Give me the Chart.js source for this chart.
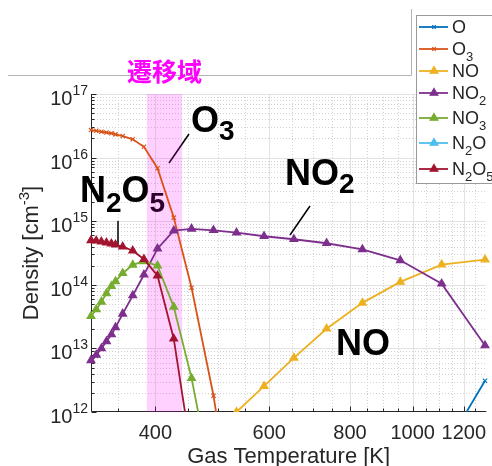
<!DOCTYPE html>
<html>
<head>
<meta charset="utf-8">
<script src="https://cdn.jsdelivr.net/npm/chart.js@4.4.0/dist/chart.umd.min.js"></script>
<style>
html, body { margin: 0; padding: 0; background: #fff; overflow: hidden; }
</style>
</head>
<body>
<canvas id="chart" width="492" height="466"></canvas>
<script>
//------------------------------------
// Data
//------------------------------------

const temps = [318, 324, 330, 336, 342, 347, 356, 369, 384, 403, 427, 455, 492, 534, 589, 655, 736, 836, 957, 1109, 1294];

const densO = [null, null, null, null, null, null, null, null, null, null, null, null, null, null, null, null, null, null, null, 2.2e11, 3.1e12];

const densO3 = [2.71e16, 2.64e16, 2.55e16, 2.48e16, 2.41e16, 2.32e16, 2.18e16, 1.94e16, 1.48e16, 6.8e15, 1.14e15, 9.0e13, 1.8e12, 8.7e9, null, null, null, null, null, null, null];

const densNO = [null, null, null, null, null, null, null, null, null, null, null, null, null, 1.0e12, 2.55e12, 7.1e12, 2.04e13, 5.2e13, 1.11e14, 2.08e14, 2.49e14];

const densNO2 = [6.5e12, 7.9e12, 1.0e13, 1.29e13, 1.66e13, 2.14e13, 3.5e13, 6.8e13, 1.44e14, 3.7e14, 7.1e14, 7.6e14, 7.2e14, 6.6e14, 5.8e14, 5.2e14, 4.5e14, 3.6e14, 2.43e14, 1.04e14, 1.11e13];

const densNO3 = [3.2e13, 4.1e13, 5.4e13, 7.3e13, 9.5e13, 1.13e14, 1.52e14, 2.06e14, 2.34e14, 2.0e14, 4.5e13, 3.4e12, 5.8e10, null, null, null, null, null, null, null, null];

const densN2O = [];

const densN2O5 = [5.0e14, 4.93e14, 4.75e14, 4.58e14, 4.42e14, 4.26e14, 3.97e14, 3.43e14, 2.52e14, 1.39e14, 1.42e13, 2.1e11, null, null, null, null, null, null, null, null, null];

const seriesNames = ["O", "O3", "NO", "NO2", "NO3", "N2O", "N2O5"];
const seriesValues = [densO, densO3, densNO, densNO2, densNO3, densN2O, densN2O5];
const seriesColors = ["#0072BD", "#D95319", "#EDB120", "#7E2F8E", "#77AC30", "#4DBEEE", "#A2142F"];
const seriesMarkers = ["crossRot", "crossRot", "triangle", "triangle", "triangle", "triangle", "triangle"];

const xTicks = [400, 600, 800, 1000, 1200];
const xMinorTicks = [350, 450, 500, 550, 650, 700, 750, 850, 900, 950, 1050, 1100, 1150, 1250];
const yTickExps = [12, 13, 14, 15, 16, 17];

const bandRange = [388, 440];
const bandLabel = "遷移域";

const FONT = '"Liberation Sans", Arial, Helvetica, sans-serif';
const TXT = "#262626";

//------------------------------------
// Helpers
//------------------------------------

function seg(ctx, x1, y1, x2, y2) {
    ctx.beginPath();
    ctx.moveTo(x1, y1);
    ctx.lineTo(x2, y2);
    ctx.stroke();
}

// chemical formula: digits are subscripts
function drawFormula(ctx, text, x, y, size, subSize, drop, weight) {
    for (const ch of text) {
        const isSub = /[0-9]/.test(ch);
        ctx.font = `${weight} ${isSub ? subSize : size}px ${FONT}`;
        ctx.fillText(ch, x, isSub ? y + drop : y);
        x += ctx.measureText(ch).width;
    }
}

//------------------------------------
// Plugin: grid, axes, texts, band, legend
//------------------------------------

const decor = {
    id: "decor",

    beforeDraw(chart) {
        const ctx = chart.ctx;
        ctx.save();
        ctx.fillStyle = "#ffffff";
        ctx.fillRect(0, 0, chart.width, chart.height);
        ctx.restore();
    },

    beforeDatasetsDraw(chart) {
        const { ctx, chartArea: a, scales } = chart;
        const xs = scales.x, ys = scales.y;

        ctx.save();
        ctx.beginPath();
        ctx.rect(a.left, a.top, a.right - a.left, a.bottom - a.top);
        ctx.clip();
        ctx.lineWidth = 1;

        // minor grid (dotted)
        ctx.setLineDash([1, 2]);
        ctx.strokeStyle = "#d2d2d2";
        xMinorTicks.forEach(v => {
            const px = Math.round(xs.getPixelForValue(v)) + 0.5;
            seg(ctx, px, a.top, px, a.bottom);
        });
        for (let e = 12; e < 17; e++) {
            for (let m = 2; m <= 9; m++) {
                const py = Math.round(ys.getPixelForValue(m * Math.pow(10, e))) + 0.5;
                seg(ctx, a.left, py, a.right, py);
            }
        }

        // major grid
        ctx.setLineDash([]);
        ctx.strokeStyle = "#e2e2e2";
        xTicks.forEach(v => {
            const px = Math.round(xs.getPixelForValue(v)) + 0.5;
            seg(ctx, px, a.top, px, a.bottom);
        });
        yTickExps.forEach(e => {
            const py = Math.round(ys.getPixelForValue(Math.pow(10, e))) + 0.5;
            seg(ctx, a.left, py, a.right, py);
        });
        ctx.restore();

        // axes
        ctx.save();
        ctx.strokeStyle = TXT;
        ctx.lineWidth = 1;
        const L = Math.round(a.left) + 0.5, B = Math.round(a.bottom) - 0.5;
        seg(ctx, L, a.top, L, B);
        seg(ctx, L, B, a.right, B);
        yTickExps.forEach(e => {
            const py = Math.round(ys.getPixelForValue(Math.pow(10, e))) + 0.5;
            seg(ctx, L, py, L + 5, py);
            if (e < 17) {
                for (let m = 2; m <= 9; m++) {
                    const pm = Math.round(ys.getPixelForValue(m * Math.pow(10, e))) + 0.5;
                    seg(ctx, L, pm, L + 3, pm);
                }
            }
        });
        xTicks.forEach(v => {
            const px = Math.round(xs.getPixelForValue(v)) + 0.5;
            seg(ctx, px, B, px, B - 5);
        });
        xMinorTicks.forEach(v => {
            const px = Math.round(xs.getPixelForValue(v)) + 0.5;
            seg(ctx, px, B, px, B - 3);
        });
        ctx.restore();

        // big species labels
        ctx.save();
        ctx.fillStyle = "#000000";
        ctx.textAlign = "left";
        ctx.textBaseline = "alphabetic";
        drawFormula(ctx, "N2O5", 80, 202, 36, 28, 10, "bold");
        drawFormula(ctx, "O3", 191, 132, 36, 28, 8, "bold");
        drawFormula(ctx, "NO2", 285, 185, 36, 28, 8, "bold");
        drawFormula(ctx, "NO", 336, 355, 36, 28, 8, "bold");

        // leader lines
        ctx.strokeStyle = "#000000";
        ctx.lineWidth = 1.5;
        seg(ctx, 189, 134, 169, 163);
        seg(ctx, 118, 221, 118, 246);
        seg(ctx, 310, 206, 290, 235);
        ctx.restore();

        // transition band
        ctx.save();
        const b0 = xs.getPixelForValue(bandRange[0]);
        const b1 = xs.getPixelForValue(bandRange[1]);
        ctx.fillStyle = "rgba(255, 0, 255, 0.18)";
        ctx.fillRect(b0, a.top, b1 - b0, a.bottom - a.top);
        ctx.restore();
    },

    afterDatasetsDraw(chart) {
        const { ctx, chartArea: a, scales } = chart;
        const xs = scales.x, ys = scales.y;

        ctx.save();
        ctx.fillStyle = TXT;

        // y tick labels 10^n
        ctx.textAlign = "left";
        ctx.textBaseline = "alphabetic";
        yTickExps.forEach(e => {
            const py = ys.getPixelForValue(Math.pow(10, e));
            const exp = String(e);
            ctx.font = `14px ${FONT}`;
            const wSup = ctx.measureText(exp).width;
            ctx.font = `20px ${FONT}`;
            const wBase = ctx.measureText("10").width;
            const x0 = a.left - 3 - wSup - wBase;
            ctx.fillText("10", x0, py + 11);
            ctx.font = `14px ${FONT}`;
            ctx.fillText(exp, x0 + wBase, py + 1);
        });

        // x tick labels
        ctx.textAlign = "center";
        ctx.font = `20px ${FONT}`;
        xTicks.forEach(v => {
            ctx.fillText(String(v), xs.getPixelForValue(v), 439);
        });

        // x title
        ctx.font = `22px ${FONT}`;
        ctx.fillText("Gas Temperature [K]", (a.left + a.right) / 2, 463);

        // y title with superscript
        ctx.save();
        ctx.translate(38, (a.top + a.bottom) / 2);
        ctx.rotate(-Math.PI / 2);
        ctx.textAlign = "left";
        ctx.font = `22px ${FONT}`;
        const wA = ctx.measureText("Density [cm").width;
        const wC = ctx.measureText("]").width;
        ctx.font = `15px ${FONT}`;
        const wB = ctx.measureText("-3").width;
        let tx = -(wA + wB + wC) / 2;
        ctx.font = `22px ${FONT}`;
        ctx.fillText("Density [cm", tx, 0);
        tx += wA;
        ctx.font = `15px ${FONT}`;
        ctx.fillText("-3", tx, -9);
        tx += wB;
        ctx.font = `22px ${FONT}`;
        ctx.fillText("]", tx, 0);
        ctx.restore();

        // outline of neighbouring slide box
        ctx.strokeStyle = "#b4b4b4";
        ctx.lineWidth = 1;
        ctx.beginPath();
        ctx.moveTo(8, 75.5);
        ctx.lineTo(411.5, 75.5);
        ctx.lineTo(411.5, 9);
        ctx.stroke();

        // band label
        ctx.fillStyle = "#ff00ff";
        ctx.textAlign = "center";
        ctx.textBaseline = "middle";
        ctx.font = `bold 25px "Noto Sans CJK JP", sans-serif`;
        const bc = (xs.getPixelForValue(bandRange[0]) + xs.getPixelForValue(bandRange[1])) / 2;
        ctx.fillText(bandLabel, bc, 71);

        // legend
        const rowY = [27, 49, 71, 93, 118, 143, 169];
        ctx.fillStyle = "#ffffff";
        ctx.fillRect(416.5, 15.5, 100, 168);
        ctx.strokeStyle = "#9a9a9a";
        ctx.strokeRect(416.5, 15.5, 100, 168);
        ctx.textAlign = "left";
        ctx.textBaseline = "alphabetic";
        seriesNames.forEach((name, i) => {
            const yy = rowY[i];
            ctx.strokeStyle = seriesColors[i];
            ctx.fillStyle = seriesColors[i];
            ctx.lineWidth = 1.8;
            seg(ctx, 419, yy, 448, yy);
            ctx.lineWidth = 1.2;
            Chart.helpers.drawPoint(ctx, {
                pointStyle: seriesMarkers[i],
                radius: seriesMarkers[i] === "triangle" ? 4.5 : 2.5,
                rotation: 0,
                borderWidth: 1.2
            }, 434, yy);
            ctx.fillStyle = TXT;
            drawFormula(ctx, name, 452, yy + 6, 18, 13, 6, "normal");
        });

        ctx.restore();
    }
};

//------------------------------------
// Chart
//------------------------------------

const datasets = seriesNames.map((name, i) => ({
    label: name,
    data: temps.map((t, k) => ({ x: t, y: seriesValues[i][k] ?? null })),
    borderColor: seriesColors[i],
    backgroundColor: seriesColors[i],
    pointBackgroundColor: seriesColors[i],
    pointBorderColor: seriesColors[i],
    borderWidth: 1.8,
    pointStyle: seriesMarkers[i],
    pointRadius: seriesMarkers[i] === "triangle" ? 4.5 : 3,
    pointBorderWidth: 1.2,
    tension: 0,
    spanGaps: false,
    order: seriesNames.length - i,
    clip: { left: 8, top: 0, right: 8, bottom: 0 }
}));

new Chart(document.getElementById("chart"), {
    type: "line",
    data: { datasets: datasets },
    options: {
        responsive: false,
        animation: false,
        events: [],
        layout: { padding: { left: 91, top: 94, right: 0, bottom: 54 } },
        scales: {
            x: { type: "logarithmic", min: 318, max: 1300, display: false },
            y: { type: "logarithmic", min: 1e12, max: 1e17, display: false }
        },
        plugins: {
            legend: { display: false },
            tooltip: { enabled: false }
        }
    },
    plugins: [decor]
});
</script>
</body>
</html>
